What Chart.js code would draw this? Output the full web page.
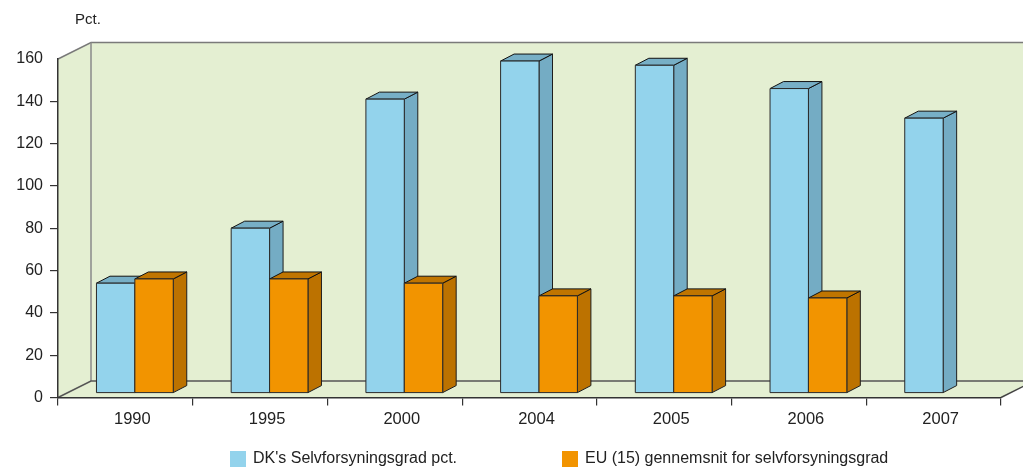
<!DOCTYPE html>
<html>
<head>
<meta charset="utf-8">
<script src="https://cdn.jsdelivr.net/npm/chart.js@4"></script>
<style>
  html, body { margin: 0; padding: 0; background: #fff; }
  #wrap { width: 1023px; height: 467px; }
</style>
</head>
<body>
<div id="wrap"><canvas id="chart"></canvas></div>
<script>
const years = ["1990", "1995", "2000", "2004", "2005", "2006", "2007"];
const dkValues = [52, 78, 139, 157, 155, 144, 130];
const euValues = [54, 54, 52, 46, 46, 45, null];
const yTicks = [0, 20, 40, 60, 80, 100, 120, 140, 160];

const dkLabel = "DK's Selvforsyningsgrad pct.";
const euLabel = "EU (15) gennemsnit for selvforsyningsgrad";

// 3d look: wall depth, where the bars sit inside it, and bar depth
const wallDx = 33, wallDy = -16.5;
const barOx = 9.5, barOy = -4.3;
const barDx = 13.5, barDy = -7;
const wallFill = "#e4efd2";

const faces = [
  { front: "#93d3ec", side: "#74acc4", top: "#77afc6" },
  { front: "#f29400", side: "#bc7200", top: "#c07500" }
];

function line(ctx, pts, color, width) {
  ctx.beginPath();
  ctx.moveTo(pts[0][0], pts[0][1]);
  for (let i = 1; i < pts.length; i++) ctx.lineTo(pts[i][0], pts[i][1]);
  ctx.strokeStyle = color;
  ctx.lineWidth = width;
  ctx.stroke();
}

function poly(ctx, pts, fill, stroke) {
  ctx.beginPath();
  ctx.moveTo(pts[0][0], pts[0][1]);
  for (let i = 1; i < pts.length; i++) ctx.lineTo(pts[i][0], pts[i][1]);
  ctx.closePath();
  ctx.fillStyle = fill;
  ctx.fill();
  if (stroke) {
    ctx.strokeStyle = stroke;
    ctx.lineWidth = 1;
    ctx.lineJoin = "round";
    ctx.stroke();
  }
}

const threeD = {
  id: "threeD",
  beforeDraw(chart) {
    const ctx = chart.ctx;
    const { left: L, right: R, top: T, bottom: B } = chart.chartArea;
    ctx.save();
    // back wall
    poly(ctx, [[L + wallDx, T + wallDy], [R + wallDx + 40, T + wallDy], [R + wallDx + 40, B + wallDy], [L + wallDx, B + wallDy]], wallFill);
    // side wall
    poly(ctx, [[L, T], [L + wallDx, T + wallDy], [L + wallDx, B + wallDy], [L, B]], wallFill);
    // floor
    poly(ctx, [[L, B], [L + wallDx, B + wallDy], [R + wallDx, B + wallDy], [R, B]], wallFill);

    line(ctx, [[L, T], [L + wallDx, T + wallDy], [R + wallDx + 40, T + wallDy]], "#7a7a7a", 1.5);
    line(ctx, [[L + wallDx, T + wallDy], [L + wallDx, B + wallDy]], "#8a8a8a", 1.5);
    line(ctx, [[L, B], [L + wallDx, B + wallDy], [R + wallDx + 40, B + wallDy]], "#555", 1.5);
    line(ctx, [[R, B], [R + wallDx, B + wallDy]], "#444", 1.5);

    // unit label
    ctx.fillStyle = "#222";
    ctx.font = "15px 'Liberation Sans', Arial, sans-serif";
    ctx.textAlign = "left";
    ctx.textBaseline = "middle";
    ctx.fillText("Pct.", 75, 20);
    ctx.restore();
  },
  afterDatasetsDraw(chart) {
    const ctx = chart.ctx;
    ctx.save();
    for (let i = 0; i < years.length; i++) {
      chart.data.datasets.forEach((ds, d) => {
        const el = chart.getDatasetMeta(d).data[i];
        if (!el || ds.data[i] == null) return;
        const { x, y, base, width } = el.getProps(["x", "y", "base", "width"], true);
        const l = x - width / 2 + barOx, r = x + width / 2 + barOx;
        const t = y + barOy, b = base + barOy;
        const c = faces[d];
        poly(ctx, [[r, t], [r + barDx, t + barDy], [r + barDx, b + barDy], [r, b]], c.side, "#1e1e1e");
        poly(ctx, [[l, t], [l + barDx, t + barDy], [r + barDx, t + barDy], [r, t]], c.top, "#111");
        poly(ctx, [[l, t], [r, t], [r, b], [l, b]], c.front, "#2a2a2a");
      });
    }

    // legend
    const items = [[230, dkLabel, faces[0].front], [562, euLabel, faces[1].front]];
    ctx.font = "16px 'Liberation Sans', Arial, sans-serif";
    ctx.textBaseline = "middle";
    ctx.textAlign = "left";
    items.forEach(([lx, text, color]) => {
      ctx.fillStyle = color;
      ctx.fillRect(lx, 451, 16, 16);
      ctx.fillStyle = "#222";
      ctx.fillText(text, lx + 23, 459);
    });
    ctx.restore();
  }
};

new Chart(document.getElementById("chart"), {
  type: "bar",
  data: {
    labels: years,
    datasets: [
      { label: dkLabel, data: dkValues, backgroundColor: "rgba(0,0,0,0)", borderWidth: 0 },
      { label: euLabel, data: euValues, backgroundColor: "rgba(0,0,0,0)", borderWidth: 0 }
    ]
  },
  options: {
    responsive: true,
    maintainAspectRatio: false,
    animation: false,
    layout: { padding: { top: 59, right: 22, left: 0, bottom: 0 } },
    datasets: { bar: { categoryPercentage: 0.57, barPercentage: 1 } },
    plugins: {
      legend: { display: false },
      tooltip: { enabled: false }
    },
    scales: {
      x: {
        afterFit: s => { s.height = 69.5; },
        grid: { drawOnChartArea: false, tickLength: 8, color: "#333", lineWidth: 1.2 },
        border: { color: "#333", width: 1.5 },
        ticks: {
          color: "#222",
          padding: 4,
          labelOffset: 7,
          font: { family: "'Liberation Sans', Arial, sans-serif", size: 16.5 }
        }
      },
      y: {
        min: 0,
        max: 160,
        afterFit: s => { s.width = 58; },
        afterBuildTicks: s => { s.ticks = yTicks.map(v => ({ value: v })); },
        grid: {
          drawOnChartArea: false,
          tickLength: 8,
          lineWidth: 1.2,
          color: c => (c.tick && c.tick.value === 160 ? "rgba(0,0,0,0)" : "#333")
        },
        border: { color: "#333", width: 1.5 },
        ticks: {
          color: "#222",
          padding: 7,
          font: { family: "'Liberation Sans', Arial, sans-serif", size: 16 }
        }
      }
    }
  },
  plugins: [threeD]
});
</script>
</body>
</html>
